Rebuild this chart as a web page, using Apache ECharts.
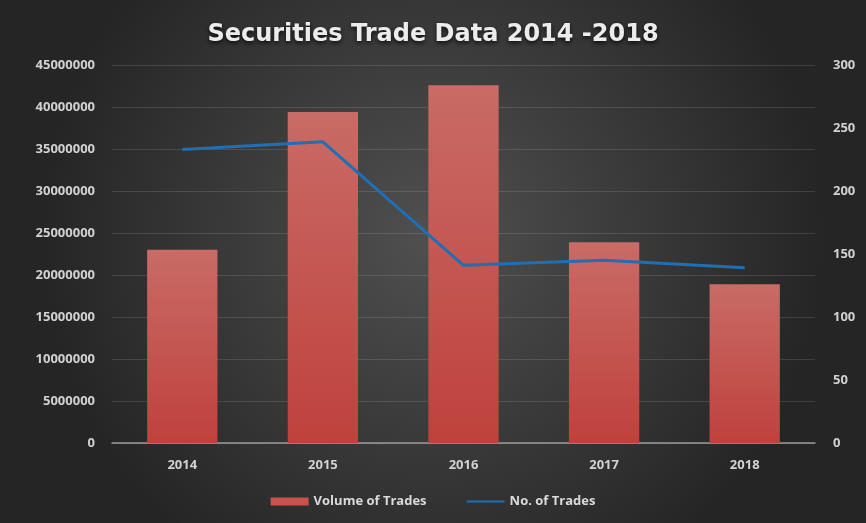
<!DOCTYPE html>
<html>
<head>
<meta charset="utf-8">
<script src="https://cdn.jsdelivr.net/npm/echarts@6/dist/echarts.min.js"></script>
<style>
    *{ margin:0; padding:0; }
    body{ background:#2a2a2a; }
    #chart{ width:866px; height:523px; }
</style>
</head>
<body>
<div id="chart"></div>
<script>
    // data
    var years = ['2014', '2015', '2016', '2017', '2018'];
    var volumeOfTrades = [23000000, 39400000, 42600000, 23900000, 18900000];
    var noOfTrades = [233, 239, 141, 145, 139];

    var chart = echarts.init(document.getElementById('chart'));
    var labelStyle = { color:'#d2d2d2', fontSize:13, fontWeight:'bold', fontFamily:'Open Sans' };

    var option = {
        backgroundColor: {
            type:'radial', x:0.5, y:0.45, r:0.75,
            colorStops:[{offset:0, color:'#505050'}, {offset:1, color:'#252525'}]
        },
        title: {
            text:'Securities Trade Data 2014 -2018',
            left:'center', top:18,
            textStyle:{
                color:'#ececec', fontSize:24, fontWeight:'bold', fontFamily:'DejaVu Sans',
                textShadowColor:'rgba(0,0,0,0.8)', textShadowBlur:4, textShadowOffsetY:2
            }
        },
        legend: {
            bottom:10, left:'center', itemGap:40,
            itemWidth:38, itemHeight:8,
            textStyle:{ color:'#dadada', fontSize:13, fontWeight:'bold', fontFamily:'Open Sans' },
            data:[
                { name:'Volume of Trades', icon:'rect', itemStyle:{ color:'#c9524d' } },
                { name:'No. of Trades', icon:'path://M0,4L40,4L40,6L0,6Z', itemStyle:{ color:'#1f6fb5' } }
            ]
        },
        grid: { left:112, right:51, top:65, bottom:80 },
        xAxis: {
            type:'category', data:years,
            axisLine:{ lineStyle:{ color:'#9a9a9a', width:1.5 } },
            axisTick:{ show:false },
            axisLabel:Object.assign({ margin:16 }, labelStyle)
        },
        yAxis: [
            {
                type:'value', min:0, max:45000000, interval:5000000,
                axisLabel:Object.assign({ margin:17, formatter:function (v) { return String(v); } }, labelStyle),
                axisLine:{ show:false }, axisTick:{ show:false },
                splitLine:{ lineStyle:{ color:'rgba(255,255,255,0.12)' } }
            },
            {
                type:'value', min:0, max:300, interval:50,
                axisLabel:Object.assign({ margin:18 }, labelStyle),
                axisLine:{ show:false }, axisTick:{ show:false },
                splitLine:{ show:false }
            }
        ],
        series: [
            {
                name:'Volume of Trades', type:'bar', data:volumeOfTrades,
                barWidth:'50%',
                itemStyle:{
                    color:{ type:'linear', x:0, y:0, x2:0, y2:1,
                        colorStops:[{offset:0, color:'#c96b66'}, {offset:1, color:'#bf413c'}] },
                    shadowColor:'rgba(0,0,0,0.5)', shadowBlur:6, shadowOffsetX:2, shadowOffsetY:1
                }
            },
            {
                name:'No. of Trades', type:'line', yAxisIndex:1, data:noOfTrades,
                symbol:'none',
                lineStyle:{ color:'#1f6fb5', width:3 }
            }
        ]
    };
    chart.setOption(option);
</script>
</body>
</html>
